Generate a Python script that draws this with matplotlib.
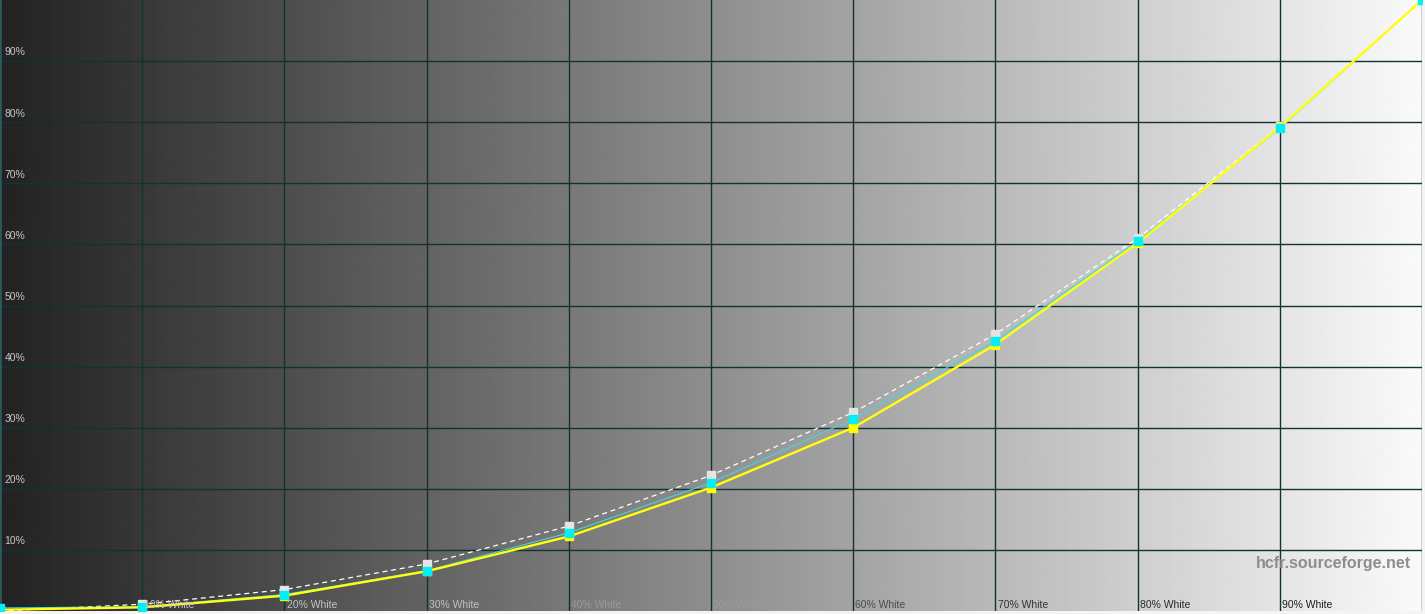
import numpy as np
import matplotlib.pyplot as plt

# grey level steps (% white) and luminance readings (% of peak)
levels = [0, 10, 20, 30, 40, 50, 60, 70, 80, 90, 100]
reference = [0, 1.1, 3.5, 7.7, 13.9, 22.2, 32.5, 45.3, 61.0, 79.3, 100]
measured_cyan = [0.5, 0.7, 2.7, 6.6, 12.8, 21.0, 31.4, 44.2, 60.5, 79.0, 100]
measured_yellow = [0.2, 0.6, 2.5, 6.5, 12.2, 20.2, 30.0, 43.6, 60.2, 79.2, 100]

y_ticks = [10, 20, 30, 40, 50, 60, 70, 80, 90]
x_labels = ["10% White", "20% White", "30% White", "40% White", "50% White",
            "60% White", "70% White", "80% White", "90% White"]
x_label_colors = ["#c4c4c4", "#c4c4c4", "#c0c0c0", "#9a9a9a", "#9a9a9a",
                  "#4a4a4a", "#333333", "#2a2a2a", "#1e1e1e"]

plt.rcParams['font.family'] = ['Liberation Sans', 'DejaVu Sans']

fig = plt.figure(figsize=(14.25, 6.14), dpi=100)
fig.patch.set_facecolor("#f4f4f4")
ax = fig.add_axes([0.0, 3 / 614, 1422 / 1425, 611 / 614])

# dark-to-light background gradient
grad = np.linspace(34, 250, 1400)[None, :] / 255.0
ax.imshow(np.repeat(grad, 2, axis=0), cmap="gray", vmin=0, vmax=1,
          extent=[0, 100, 0, 100], aspect="auto", zorder=0)

ax.set_xlim(0, 100)
ax.set_ylim(0, 100)
for v in levels[1:]:
    ax.axvline(v, color="#133232", lw=1.0, zorder=1)
for v in y_ticks:
    ax.axhline(v, color="#133232", lw=1.0, zorder=1)
ax.axvline(0, color="#2a5a5a", lw=2, zorder=1)

ax.plot(levels, reference, color="white", lw=0.9, ls=(0, (4, 3)), zorder=2)
ax.plot(levels, measured_cyan, color="#3fd8e0", lw=0.8, zorder=3)
ax.plot(levels, measured_yellow, color="#ffff10", lw=1.7, zorder=4)

ax.plot(levels, reference, ls="none", marker="s", ms=6, color="#e4e4e4", zorder=5)
ax.plot(levels, measured_yellow, ls="none", marker="s", ms=6, color="#ffff00", zorder=6)
ax.plot(levels, measured_cyan, ls="none", marker="s", ms=6, color="#00f0f8", zorder=7)

for v in y_ticks:
    ax.text(0.3, v + 0.6, f"{v}%", color="#c8c8c8", fontsize=7.5,
            ha="left", va="bottom", zorder=8)
for v, lab, c in zip(levels[1:], x_labels, x_label_colors):
    ax.text(v + 0.15, 1.0, lab, color=c, fontsize=7.5,
            ha="left", va="center", zorder=8)

ax.text(99.2, 7.7, "hcfr.sourceforge.net", color="#8e8e8e", fontsize=11.5,
        fontweight="bold", ha="right", va="center", zorder=8)

ax.set_xticks([])
ax.set_yticks([])
for s in ax.spines.values():
    s.set_visible(False)

fig.savefig("out.png", dpi=100, facecolor=fig.get_facecolor())
